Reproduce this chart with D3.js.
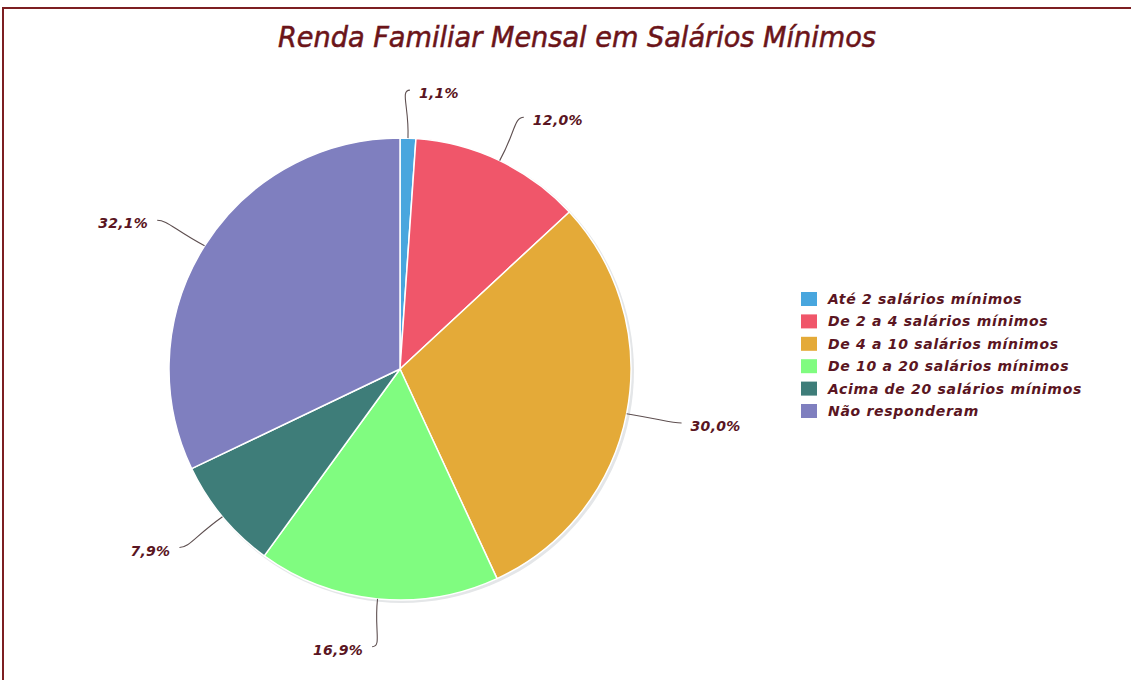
<!DOCTYPE html>
<html>
<head>
<meta charset="utf-8">
<script src="https://cdn.jsdelivr.net/npm/d3@7"></script>
<style>
  html, body { margin: 0; padding: 0; background: #ffffff; }
  svg { display: block; }
</style>
</head>
<body>
<svg id="chart" width="1131" height="680"></svg>
<script>
// ---- data ----
const title = "Renda Familiar Mensal em Salários Mínimos";
const categories = [
  "Até 2 salários mínimos",
  "De 2 a 4 salários mínimos",
  "De 4 a 10 salários mínimos",
  "De 10 a 20 salários mínimos",
  "Acima de 20 salários mínimos",
  "Não responderam"
];
const values = [1.1, 12.0, 30.0, 16.9, 7.9, 32.1];
const valueLabels = ["1,1%", "12,0%", "30,0%", "16,9%", "7,9%", "32,1%"];
const colors = ["#48a6de", "#f0566a", "#e4aa38", "#80fc80", "#3e7d79", "#7f7fbf"];

// ---- layout ----
const W = 1131, H = 680;
const cx = 400, cy = 369, r = 231, linkRx = 287, linkRy = 279;
const textColor = "#5a1522";

const svg = d3.select("#chart");

// frame
svg.append("line").attr("x1", 3).attr("y1", 8).attr("x2", W).attr("y2", 8)
  .attr("stroke", "#7d1f22").attr("stroke-width", 2);
svg.append("line").attr("x1", 3).attr("y1", 7).attr("x2", 3).attr("y2", H)
  .attr("stroke", "#7d1f22").attr("stroke-width", 2);

// title
svg.append("text")
  .attr("x", 577).attr("y", 47)
  .attr("text-anchor", "middle")
  .attr("font-family", "'DejaVu Sans Condensed', 'DejaVu Sans', sans-serif")
  .attr("font-style", "italic")
  .attr("font-size", 28)
  .attr("fill", "#6b1419")
  .attr("stroke", "#6b1419")
  .attr("stroke-width", 0.5)
  .attr("textLength", 598)
  .attr("lengthAdjust", "spacingAndGlyphs")
  .text(title);

// pie
const pie = d3.pie().sort(null).value(d => d.v);
const data = categories.map((c, i) => ({ c, v: values[i], lab: valueLabels[i], col: colors[i] }));
const arcs = pie(data);
const arc = d3.arc().innerRadius(0).outerRadius(r);

const g = svg.append("g").attr("transform", `translate(${cx},${cy})`);

// soft shadow
g.append("circle").attr("cx", 2).attr("cy", 2).attr("r", r + 1)
  .attr("fill", "#e4e6e8");

g.selectAll("path.slice").data(arcs).join("path")
  .attr("class", "slice")
  .attr("d", arc)
  .attr("fill", d => d.data.col)
  .attr("stroke", "#ffffff")
  .attr("stroke-width", 1.5)
  .attr("stroke-linejoin", "round");

// labels with curved links
function polar(rx, ry, ang) { return [rx * Math.sin(ang), -ry * Math.cos(ang)]; }

arcs.forEach(d => {
  const a = (d.startAngle + d.endAngle) / 2;
  const s = polar(r, r, a);
  const e = polar(linkRx, linkRy, a);
  const side = Math.sin(a) >= 0 ? 1 : -1;
  const c1 = polar(r + (linkRx - r) * 0.65, r + (linkRy - r) * 0.65, a);
  const c2 = [e[0] - side * 10, e[1]];
  const p = d3.path();
  p.moveTo(s[0], s[1]);
  p.bezierCurveTo(c1[0], c1[1], c2[0], c2[1], e[0], e[1]);
  g.append("path").attr("d", p.toString())
    .attr("fill", "none").attr("stroke", "#5e4f50").attr("stroke-width", 1.1);
  g.append("text")
    .attr("x", e[0] + side * 9)
    .attr("y", e[1] + 3)
    .attr("dominant-baseline", "central")
    .attr("text-anchor", side > 0 ? "start" : "end")
    .attr("font-family", "'DejaVu Sans', sans-serif")
    .attr("font-style", "italic")
    .attr("font-weight", "bold")
    .attr("font-size", 14)
    .attr("letter-spacing", 0.3)
    .attr("fill", textColor)
    .text(d.data.lab);
});

// legend
const lx = 801, ly = 299, step = 22.4;
const lg = svg.append("g");
categories.forEach((c, i) => {
  lg.append("rect")
    .attr("x", lx).attr("y", ly + i * step - 7)
    .attr("width", 16).attr("height", 14)
    .attr("fill", colors[i]);
  lg.append("text")
    .attr("x", lx + 27).attr("y", ly + i * step)
    .attr("dominant-baseline", "central")
    .attr("font-family", "'DejaVu Sans', sans-serif")
    .attr("font-style", "italic")
    .attr("font-weight", "bold")
    .attr("font-size", 14)
    .attr("letter-spacing", 0.7)
    .attr("fill", textColor)
    .text(c);
});
</script>
</body>
</html>
